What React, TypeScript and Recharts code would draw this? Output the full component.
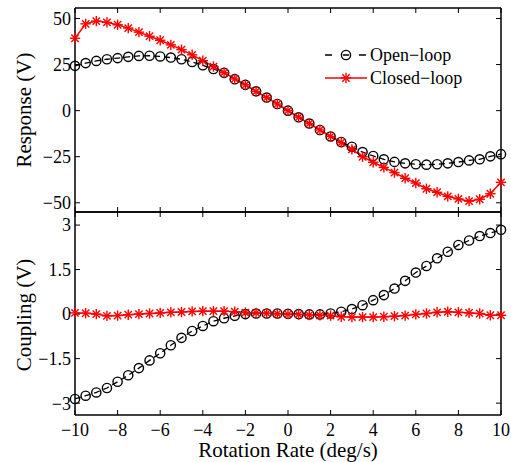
import { LineChart, Line, XAxis, YAxis, Legend, Label } from "recharts";

// rotation rate samples (deg/s)
const rate = [
  -10, -9.5, -9, -8.5, -8, -7.5, -7, -6.5, -6, -5.5, -5, -4.5, -4, -3.5, -3, -2.5, -2, -1.5, -1, -0.5,
  0, 0.5, 1, 1.5, 2, 2.5, 3, 3.5, 4, 4.5, 5, 5.5, 6, 6.5, 7, 7.5, 8, 8.5, 9, 9.5, 10,
];

const responseOpen = [
  24.3, 25.8, 27.0, 27.9, 28.5, 29.2, 29.7, 29.8, 29.4, 28.8, 27.9, 26.4, 24.6, 22.6, 20.5, 17.1, 14.0, 10.5, 7.1, 3.6,
  0.0, -3.6, -7.0, -10.5, -14.0, -17.0, -19.6, -22.5, -24.6, -26.4, -27.8, -28.6, -29.1, -29.3, -29.1, -28.6, -27.9, -27.0, -26.4, -24.8, -23.6,
];
const responseClosed = [
  39.3, 47.1, 48.6, 47.9, 46.6, 44.8, 42.6, 40.4, 38.2, 35.7, 33.1, 30.3, 27.1, 23.9, 20.6, 17.2, 14.0, 10.4, 7.1, 3.6,
  0.0, -3.6, -7.0, -10.5, -14.0, -17.3, -21.0, -25.0, -28.0, -30.8, -33.6, -36.7, -39.3, -42.4, -44.3, -46.5, -47.9, -49.1, -48.1, -45.1, -38.9,
];

const couplingOpen = [
  -2.86, -2.75, -2.64, -2.49, -2.28, -2.06, -1.82, -1.56, -1.32, -1.05, -0.8, -0.57, -0.4, -0.24, -0.14, -0.06, 0.0, 0.02, 0.02, 0.02,
  0.01, 0.0, -0.01, -0.01, 0.02, 0.08, 0.17, 0.3, 0.47, 0.64, 0.86, 1.12, 1.4, 1.62, 1.88, 2.1, 2.33, 2.48, 2.63, 2.73, 2.84,
];
const couplingClosed = [
  0.04, 0.03, 0.0, -0.06, -0.05, -0.02, 0.0, 0.02, 0.04, 0.06, 0.07, 0.09, 0.1, 0.1, 0.1, 0.08, 0.05, 0.04, 0.03, 0.01,
  0.0, -0.01, -0.03, -0.04, -0.05, -0.09, -0.1, -0.1, -0.1, -0.09, -0.07, -0.05, -0.01, 0.02, 0.06, 0.08, 0.06, 0.04, 0.02, -0.04, -0.04,
];

const rateTicks = [-10, -8, -6, -4, -2, 0, 2, 4, 6, 8, 10];
const responseTicks = [-50, -25, 0, 25, 50];
const couplingTicks = [-3, -1.5, 0, 1.5, 3];

const FONT = "Liberation Serif, Times New Roman, DejaVu Serif, serif";
const RED = "#ff0000";

const top = rate.map((x, i) => ({ x, open: responseOpen[i], closed: responseClosed[i] }));
const bottom = rate.map((x, i) => ({ x, open: couplingOpen[i], closed: couplingClosed[i] }));

const minus = (v: number) => String(v).replace("-", "\u2212");
const blank = () => "";

function Ring({ cx, cy }: { cx: number; cy: number }) {
  return <circle cx={cx} cy={cy} r={4.6} fill="none" stroke="#000" strokeWidth={1.4} />;
}

function Star({ cx, cy }: { cx: number; cy: number }) {
  const r = 5.2;
  const d = r * 0.7071;
  return (
    <g stroke={RED} strokeWidth={1.4}>
      <line x1={cx - r} y1={cy} x2={cx + r} y2={cy} />
      <line x1={cx} y1={cy - r} x2={cx} y2={cy + r} />
      <line x1={cx - d} y1={cy - d} x2={cx + d} y2={cy + d} />
      <line x1={cx - d} y1={cy + d} x2={cx + d} y2={cy - d} />
    </g>
  );
}

const textStyle = { fontFamily: FONT };

function LegendBox() {
  return (
    <svg width={180} height={50} style={{ overflow: "visible" }}>
      <line x1={5} y1={15} x2={46} y2={15} stroke="#000" strokeWidth={1.5} strokeDasharray="7 11 6 10 7" />
      <circle cx={26} cy={15} r={4.6} fill="none" stroke="#000" strokeWidth={1.4} />
      <text x={50} y={21} style={textStyle} fontSize={18} fill="#000">Open{"\u2212"}loop</text>
      <line x1={5} y1={38} x2={47} y2={38} stroke={RED} strokeWidth={1.5} />
      <Star cx={26} cy={38} />
      <text x={50} y={44} style={textStyle} fontSize={18} fill="#000">Closed{"\u2212"}loop</text>
    </svg>
  );
}

const tickStyle = { fill: "#000", fontSize: 18, fontFamily: FONT, style: textStyle };
const axisLine = { stroke: "#000", strokeWidth: 1.5 };
const tickLine = { stroke: "#000", strokeWidth: 1 };

function yTitle(text: string, cy: number) {
  return (
    <Label
      content={() => (
        <text x={31} y={cy} transform={`rotate(-90 31 ${cy})`} textAnchor="middle" style={textStyle} fontSize={21} fill="#000">
          {text}
        </text>
      )}
    />
  );
}

export default function App() {
  return (
    <div style={{ position: "absolute", left: 0, top: 0, width: 511, height: 462, background: "#fff", fontFamily: FONT }}>
      <div style={{ position: "absolute", left: 0, top: 0 }}>
        <LineChart width={511} height={214} data={top} margin={{ top: 0, right: 0, left: 0, bottom: 0 }}>
          <XAxis xAxisId="b" dataKey="x" type="number" domain={[-10, 10]} ticks={rateTicks} interval={0} height={2}
            tickFormatter={blank} tickSize={-5} axisLine={axisLine} tickLine={tickLine} />
          <XAxis xAxisId="t" orientation="top" dataKey="x" type="number" domain={[-10, 10]} ticks={rateTicks} interval={0} height={8}
            tickFormatter={blank} tickSize={-5} axisLine={axisLine} tickLine={tickLine} />
          <YAxis yAxisId="l" type="number" domain={[-55, 55.7]} ticks={responseTicks} interval={0} width={75} allowDataOverflow
            tickFormatter={minus} tick={tickStyle} tickSize={-5} tickMargin={9} axisLine={axisLine} tickLine={tickLine}>
            {yTitle("Response (V)", 110)}
          </YAxis>
          <YAxis yAxisId="r" orientation="right" type="number" domain={[-55, 55.7]} ticks={responseTicks} interval={0} width={10} allowDataOverflow
            tickFormatter={blank} tickSize={-5} axisLine={axisLine} tickLine={tickLine} />
          <Legend layout="horizontal" verticalAlign="middle" align="center" content={() => <LegendBox />}
            wrapperStyle={{ position: "absolute", left: 320, top: 40, width: 180, height: 50 }} />
          <Line xAxisId="b" yAxisId="l" dataKey="open" stroke="#000" strokeWidth={1.3} strokeDasharray="6 4"
            dot={(p: any) => <Ring key={p.index} cx={p.cx} cy={p.cy} />} activeDot={false} isAnimationActive={false} />
          <Line xAxisId="b" yAxisId="l" dataKey="closed" stroke={RED} strokeWidth={1.5}
            dot={(p: any) => <Star key={p.index} cx={p.cx} cy={p.cy} />} activeDot={false} isAnimationActive={false} />
        </LineChart>
      </div>
      <div style={{ position: "absolute", left: 0, top: 210 }}>
        <LineChart width={511} height={252} data={bottom} margin={{ top: 0, right: 0, left: 0, bottom: 0 }}>
          <XAxis xAxisId="b" dataKey="x" type="number" domain={[-10, 10]} ticks={rateTicks} interval={0} height={47}
            tickFormatter={minus} tick={tickStyle} tickSize={-5} tickMargin={13} axisLine={axisLine} tickLine={tickLine}>
            <Label
              content={() => (
                <text x={288} y={247} textAnchor="middle" style={textStyle} fontSize={21} fill="#000">
                  Rotation Rate (deg/s)
                </text>
              )}
            />
          </XAxis>
          <XAxis xAxisId="t" orientation="top" dataKey="x" type="number" domain={[-10, 10]} ticks={rateTicks} interval={0} height={2}
            tickFormatter={blank} tickSize={-5} axisLine={axisLine} tickLine={tickLine} />
          <YAxis yAxisId="l" type="number" domain={[-3.4, 3.44]} ticks={couplingTicks} interval={0} width={75} allowDataOverflow
            tickFormatter={minus} tick={tickStyle} tickSize={-5} tickMargin={9} axisLine={axisLine} tickLine={tickLine}>
            {yTitle("Coupling (V)", 105)}
          </YAxis>
          <YAxis yAxisId="r" orientation="right" type="number" domain={[-3.4, 3.44]} ticks={couplingTicks} interval={0} width={10} allowDataOverflow
            tickFormatter={blank} tickSize={-5} axisLine={axisLine} tickLine={tickLine} />
          <Line xAxisId="b" yAxisId="l" dataKey="open" stroke="#000" strokeWidth={1.3} strokeDasharray="6 4"
            dot={(p: any) => <Ring key={p.index} cx={p.cx} cy={p.cy} />} activeDot={false} isAnimationActive={false} />
          <Line xAxisId="b" yAxisId="l" dataKey="closed" stroke={RED} strokeWidth={1.5}
            dot={(p: any) => <Star key={p.index} cx={p.cx} cy={p.cy} />} activeDot={false} isAnimationActive={false} />
        </LineChart>
      </div>
    </div>
  );
}
